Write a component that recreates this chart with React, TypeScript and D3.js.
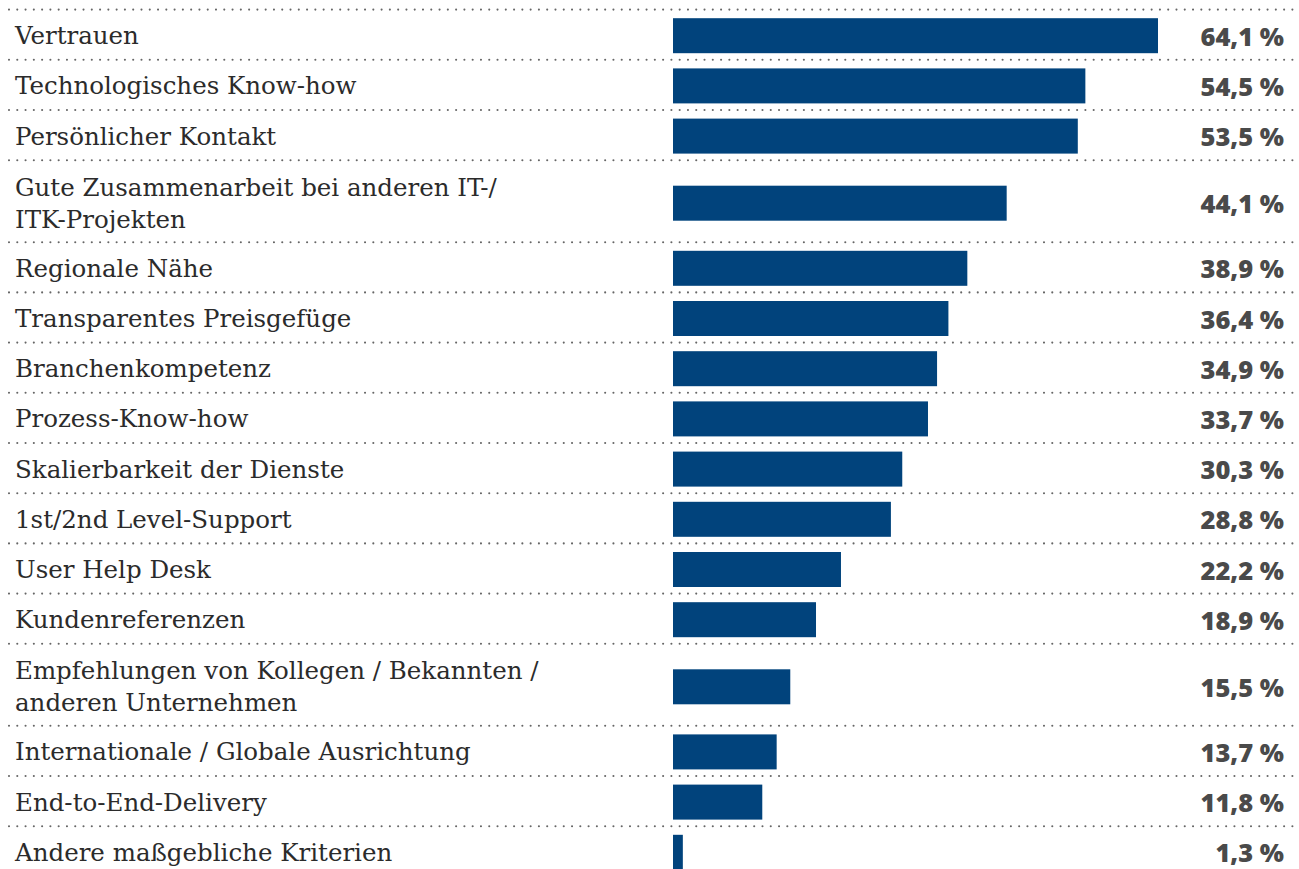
import React from "react";
import * as d3 from "d3";

const categories: string[][] = [
  ["Vertrauen"],
  ["Technologisches Know-how"],
  ["Persönlicher Kontakt"],
  ["Gute Zusammenarbeit bei anderen IT-/", "ITK-Projekten"],
  ["Regionale Nähe"],
  ["Transparentes Preisgefüge"],
  ["Branchenkompetenz"],
  ["Prozess-Know-how"],
  ["Skalierbarkeit der Dienste"],
  ["1st/2nd Level-Support"],
  ["User Help Desk"],
  ["Kundenreferenzen"],
  ["Empfehlungen von Kollegen / Bekannten /", "anderen Unternehmen"],
  ["Internationale / Globale Ausrichtung"],
  ["End-to-End-Delivery"],
  ["Andere maßgebliche Kriterien"],
];

const values: number[] = [64.1, 54.5, 53.5, 44.1, 38.9, 36.4, 34.9, 33.7, 30.3, 28.8, 22.2, 18.9, 15.5, 13.7, 11.8, 1.3];

const valueLabels: string[] = values.map((v) => d3.format(".1f")(v).replace(".", ",") + " %");

const W = 1299;
const H = 869;
const TOP = 9.6;
const SINGLE = 50.2;
const DOUBLE = 82;
const BAR_H = 35;
const BAR_COLOR = "#01437c";

export default function App() {
  const heights = categories.map((c) => (c.length > 1 ? DOUBLE : SINGLE));
  const tops = [TOP, ...Array.from(d3.cumsum(heights)).map((s) => TOP + s)];
  const x = d3.scaleLinear().domain([0, 64.1]).range([673, 1158]);

  return (
    <svg
      width={W}
      height={H}
      style={{ position: "absolute", left: 0, top: 0, background: "#fff" }}
    >
      {tops.map((t, i) => (
        <line
          key={"l" + i}
          x1={9}
          x2={W}
          y1={t}
          y2={t}
          stroke="#666"
          strokeWidth={2.1}
          strokeLinecap="round"
          strokeDasharray="0 8.28"
        />
      ))}
      {categories.map((c, i) => {
        const top = tops[i];
        const h = heights[i];
        const cy = top + h / 2;
        const off = c.length > 1 ? 2 : 1;
        return (
          <g key={"r" + i}>
            {c.map((line, j) => (
              <text
                key={j}
                x={15}
                y={cy + (j - (c.length - 1) / 2) * 32 + off}
                dominantBaseline="central"
                fontFamily="'DejaVu Serif', serif"
                fontSize={24.5}
                fill="#2b2b2b"
              >
                {line}
              </text>
            ))}
            <rect
              x={x(0)}
              y={cy - BAR_H / 2 + off}
              width={x(values[i]) - x(0)}
              height={BAR_H}
              fill={BAR_COLOR}
            />
            <text
              x={1284}
              y={cy + off}
              dominantBaseline="central"
              textAnchor="end"
              fontFamily="'Open Sans', sans-serif"
              fontWeight={800}
              fontSize={25.5}
              fill="#4a4a4a"
            >
              {valueLabels[i]}
            </text>
          </g>
        );
      })}
    </svg>
  );
}
